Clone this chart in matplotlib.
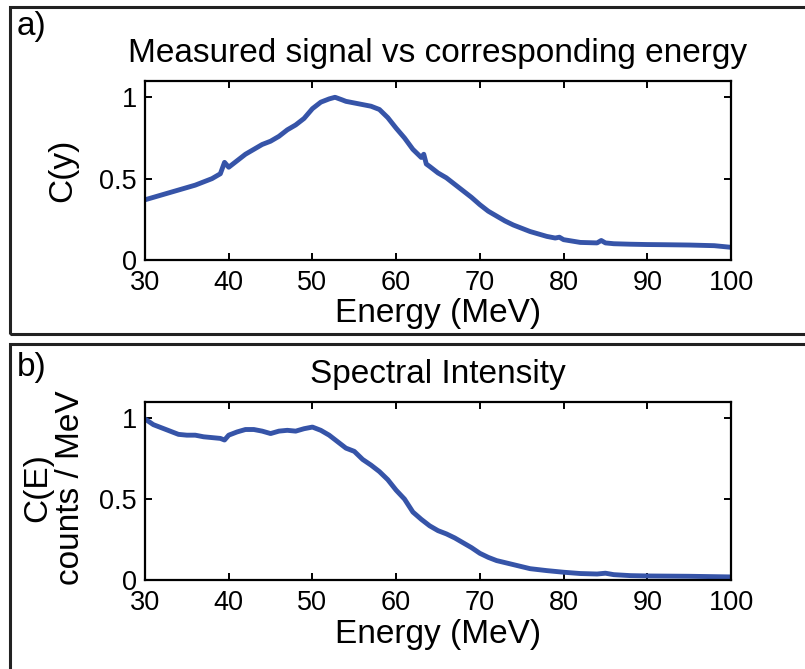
import matplotlib
matplotlib.use("Agg")
import matplotlib.pyplot as plt
from matplotlib.patches import Rectangle

plt.rcParams['font.family'] = ['Liberation Sans', 'DejaVu Sans']

# panel a) measured signal vs energy (read off the figure)
energy_a = [30, 31, 32, 33, 34, 35, 36, 37, 38, 39, 39.5, 40, 41, 42, 43, 44, 45, 46, 47, 48,
            49, 50, 51, 52, 52.7, 53.5, 54, 55, 56, 57, 58, 59, 60, 61, 62, 63, 63.3, 63.6,
            64, 65, 66, 67, 68, 69, 70, 71, 72, 73, 74, 75, 76, 77, 78, 79, 79.5, 80, 82,
            84, 84.5, 85, 86, 88, 90, 92, 95, 98, 100]
signal_a = [0.37, 0.385, 0.40, 0.415, 0.43, 0.445, 0.46, 0.48, 0.50, 0.53, 0.60, 0.57,
            0.61, 0.65, 0.68, 0.71, 0.73, 0.76, 0.80, 0.83, 0.87, 0.93, 0.97, 0.99, 1.0,
            0.985, 0.975, 0.965, 0.955, 0.945, 0.925, 0.875, 0.81, 0.75, 0.68, 0.63, 0.65,
            0.59, 0.575, 0.535, 0.505, 0.465, 0.425, 0.385, 0.34, 0.30, 0.27, 0.24, 0.215,
            0.195, 0.175, 0.16, 0.145, 0.135, 0.14, 0.125, 0.108, 0.105, 0.12, 0.105, 0.10,
            0.097, 0.095, 0.094, 0.092, 0.088, 0.078]

# panel b) spectral intensity
energy_b = [30, 31, 32, 33, 34, 35, 36, 37, 38, 39, 39.5, 40, 41, 42, 43, 44, 45, 46, 47,
            48, 49, 50, 51, 52, 53, 54, 55, 56, 57, 58, 59, 60, 61, 62, 63, 64, 65, 66, 67,
            68, 69, 70, 71, 72, 74, 76, 78, 80, 82, 84, 85, 86, 88, 90, 95, 100]
intensity_b = [0.995, 0.96, 0.94, 0.92, 0.90, 0.895, 0.895, 0.885, 0.88, 0.875, 0.865,
               0.895, 0.915, 0.93, 0.93, 0.92, 0.905, 0.92, 0.925, 0.92, 0.935, 0.945,
               0.925, 0.895, 0.855, 0.815, 0.795, 0.745, 0.71, 0.67, 0.62, 0.555, 0.50,
               0.42, 0.375, 0.335, 0.305, 0.285, 0.26, 0.23, 0.20, 0.165, 0.14, 0.12,
               0.095, 0.07, 0.058, 0.048, 0.04, 0.037, 0.042, 0.033, 0.027, 0.025, 0.023,
               0.019]

xticks = [30, 40, 50, 60, 70, 80, 90, 100]
yticks = [0, 0.5, 1]
ytick_labels = ["0", "0.5", "1"]

line_color = "#3654a8"
W, H = 805, 669
FS = 24  # titles and axis labels


def style_axes(ax):
    ax.set_xlim(30, 100)
    ax.set_ylim(0, 1.1)
    ax.set_xticks(xticks)
    ax.set_yticks(yticks)
    ax.set_yticklabels(ytick_labels)
    ax.tick_params(direction="in", length=5, width=1.4, labelsize=19.5,
                   top=True, right=True)
    ax.tick_params(axis="x", pad=7.5)
    ax.tick_params(axis="y", pad=6)
    for sp in ax.spines.values():
        sp.set_linewidth(1.6)
    ax.set_xlabel("Energy (MeV)", fontsize=FS, labelpad=1.5)


fig = plt.figure(figsize=(W / 100, H / 100), dpi=100)

# outer panel frames
fig.patches.append(Rectangle((10 / W, 1 - 334 / H), 1.0, 327 / H, transform=fig.transFigure,
                             fill=False, lw=2.2, ec="#222222", clip_on=False))
fig.patches.append(Rectangle((10 / W, -0.05), 1.0, 1 - 344 / H + 0.05, transform=fig.transFigure,
                             fill=False, lw=2.2, ec="#222222", clip_on=False))

ax1 = fig.add_axes([145 / W, 1 - 260 / H, 586 / W, 179 / H])
ax1.plot(energy_a, signal_a, color=line_color, lw=3.5)
style_axes(ax1)
ax1.set_title("Measured signal vs corresponding energy", fontsize=FS, pad=14)
ax1.set_ylabel("C(y)", fontsize=FS, va="center")
ax1.yaxis.set_label_coords(-0.14, 0.5)

ax2 = fig.add_axes([145 / W, 1 - 580 / H, 586 / W, 178 / H])
ax2.plot(energy_b, intensity_b, color=line_color, lw=3.5)
style_axes(ax2)
ax2.set_title("Spectral Intensity", fontsize=FS, pad=14)
ax2.set_ylabel("C(E)\ncounts / MeV", fontsize=FS, va="center", linespacing=1.05)
ax2.yaxis.set_label_coords(-0.155, 0.52)

fig.text(17 / W, 1 - 35 / H, "a)", fontsize=FS, va="baseline")
fig.text(17 / W, 1 - 376 / H, "b)", fontsize=FS, va="baseline")

fig.savefig("out.png", dpi=100)
